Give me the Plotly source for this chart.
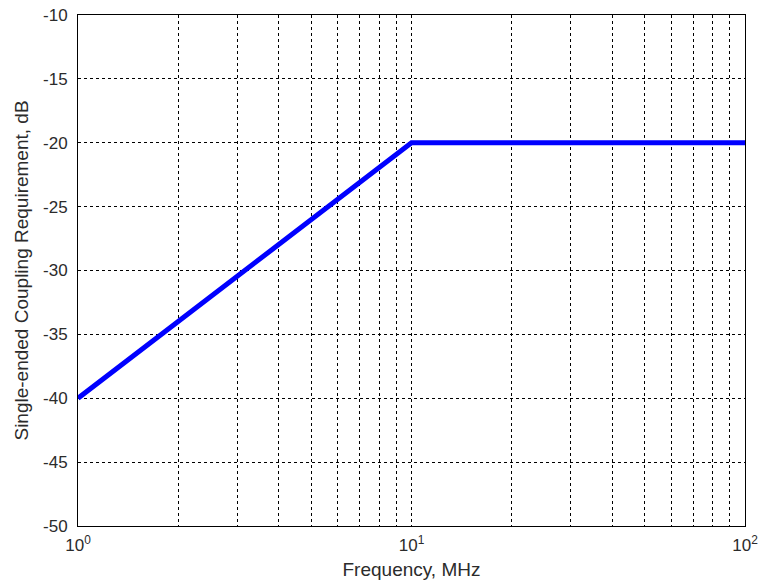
import plotly.graph_objects as go

freq_mhz = [1, 10, 100]
coupling_db = [-40, -20, -20]

x_tick_vals = [1, 10, 100]
x_tick_text = ["10<sup>0</sup>", "10<sup>1</sup>", "10<sup>2</sup>"]
y_tick_vals = [-50, -45, -40, -35, -30, -25, -20, -15, -10]
y_tick_text = ["-50", "-45", "-40", "-35", "-30", "-25", "-20", "-15", "-10"]
x_minor_vals = [2, 3, 4, 5, 6, 7, 8, 9, 20, 30, 40, 50, 60, 70, 80, 90]

fig = go.Figure()
fig.add_trace(go.Scatter(x=freq_mhz, y=coupling_db, mode="lines",
                         line=dict(color="#0000ff", width=5), showlegend=False))

fam = "Liberation Sans, Arial, sans-serif"
tfont = dict(family=fam, size=17, color="#2b2b2b")
titlefont = dict(family=fam, size=19, color="#2b2b2b")

fig.update_layout(
    width=760, height=586,
    margin=dict(l=78, r=15, t=15, b=60),
    paper_bgcolor="white", plot_bgcolor="white",
    font=tfont,
    xaxis=dict(
        type="log", range=[0, 2], automargin=False,
        tickvals=x_tick_vals, ticktext=x_tick_text, tickfont=tfont,
        ticklabeloverflow="allow",
        showgrid=True, gridcolor="black", gridwidth=1, griddash="3px,3px",
        minor=dict(tickvals=x_minor_vals, showgrid=True, gridcolor="black",
                   gridwidth=1, griddash="3px,3px", ticks=""),
        showline=True, linecolor="black", linewidth=1, mirror=True,
        ticks="", zeroline=False, ticklabelstandoff=4,
        title=dict(text="Frequency, MHz", font=titlefont, standoff=8),
    ),
    yaxis=dict(
        range=[-50, -10], automargin=False,
        tickvals=y_tick_vals, ticktext=y_tick_text, tickfont=tfont,
        ticklabeloverflow="allow",
        showgrid=True, gridcolor="black", gridwidth=1, griddash="3px,3px",
        showline=True, linecolor="black", linewidth=1, mirror=True,
        ticks="", zeroline=False, ticklabelstandoff=6,
        title=dict(text="Single-ended Coupling Requirement, dB", font=titlefont, standoff=9),
    ),
)

fig.write_html("out.html", config={"displayModeBar": False},
               post_script="document.body.style.margin='0px';document.body.style.overflow='hidden';")
